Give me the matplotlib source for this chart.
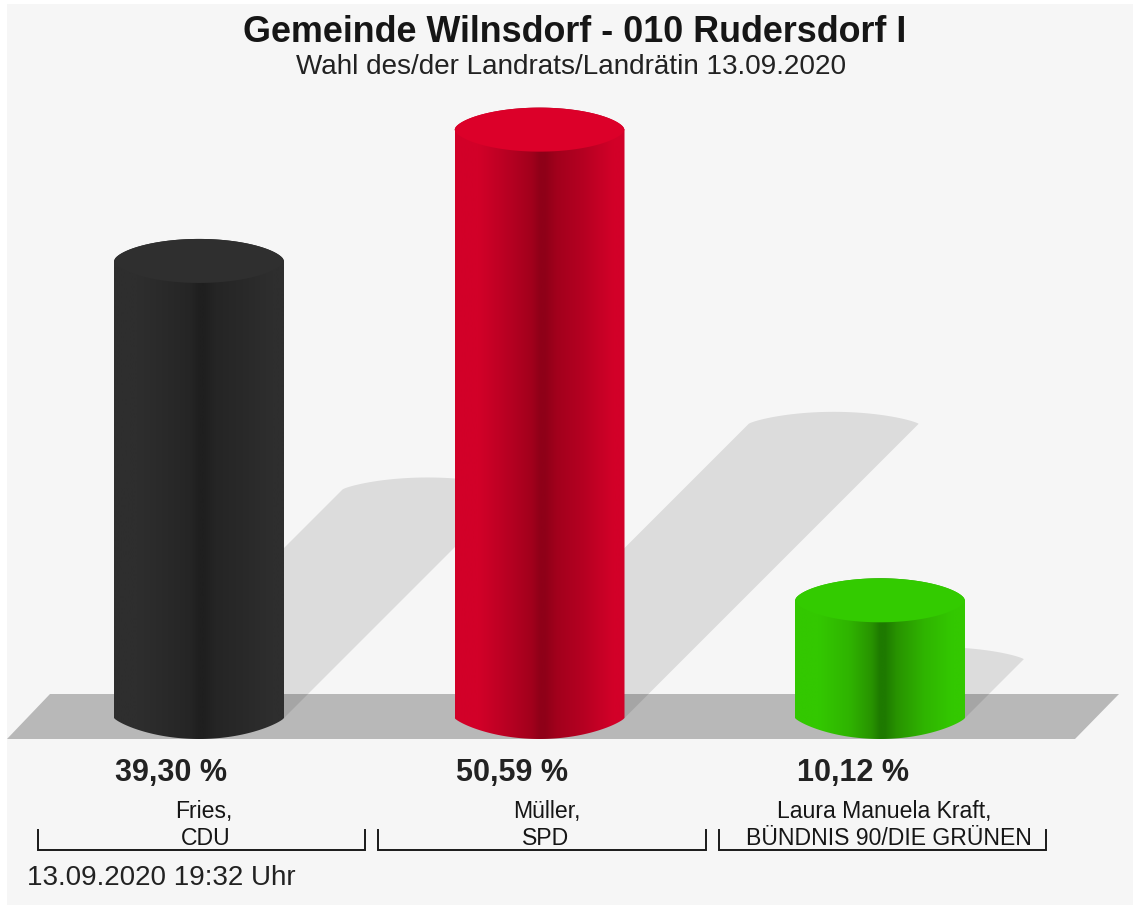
import numpy as np
import matplotlib
matplotlib.use("Agg")
import matplotlib.pyplot as plt
from matplotlib.patches import Polygon, Rectangle
from matplotlib.colors import LinearSegmentedColormap

plt.rcParams['font.family'] = ['Liberation Sans', 'DejaVu Sans']

title = "Gemeinde Wilnsdorf - 010 Rudersdorf I"
subtitle = "Wahl des/der Landrats/Landrätin 13.09.2020"
timestamp = "13.09.2020 19:32 Uhr"
names = ["Fries,", "Müller,", "Laura Manuela Kraft,"]
parties = ["CDU", "SPD", "BÜNDNIS 90/DIE GRÜNEN"]
values = [39.30, 50.59, 10.12]
value_labels = ["39,30 %", "50,59 %", "10,12 %"]
edge_colors = ["#2e2e2e", "#d20028", "#33c800"]
mid_colors = ["#292929", "#b60022", "#2fb400"]
near_colors = ["#252525", "#a2001c", "#289300"]
dark_colors = ["#1f1f1f", "#8f0018", "#1e7a00"]
top_colors = ["#2f2f2f", "#dc0029", "#33cb00"]

W, H = 1133, 906
PX_PER_PCT = 11.63
BASE_PX = 718
SLOT = 340.5
X0 = 199.0

fig = plt.figure(figsize=(W / 100, H / 100), dpi=100, facecolor="white")
ax = fig.add_axes([0, 0, 1, 1])
ax.set_xlim(-X0 / SLOT, (W - X0) / SLOT)
ax.set_ylim(-(H - BASE_PX) / PX_PER_PCT, BASE_PX / PX_PER_PCT)
ax.axis("off")
dx = 1 / SLOT
dy = 1 / PX_PER_PCT
def X(px): return (px - X0) * dx
def Y(px): return (BASE_PX - px) * dy

ax.add_patch(Rectangle((X(7), Y(905)), (W - 7) * dx, 901 * dy, fc="#f6f6f6", ec="none", zorder=0))
ax.add_patch(Polygon([(X(7), Y(739)), (X(50), Y(694)), (X(1119), Y(694)), (X(1075), Y(739))],
                     closed=True, fc="#b8b8b8", ec="none", zorder=1))

half = 85 * dx
ry_top = 22 * dy
ry_bot = 21 * dy
u = np.linspace(-1, 1, 161)
bulge = (1 - u ** 2) ** 0.8
round_top = (1 - u ** 2) ** 0.6

for i, v in enumerate(values):
    sh_h = v / 2
    sh_x = sh_h * PX_PER_PCT * dx
    arc = [(i + sh_x - half * a, sh_h + 12 * dy * b) for a, b in zip(u, bulge)]
    ax.add_patch(Polygon([(i - half, 0), (i + half, 0)] + arc, closed=True,
                         fc="black", alpha=0.10, ec="none", zorder=2))

for i, v in enumerate(values):
    verts = [(i - half, v)] + [(i + half * a, -ry_bot * b) for a, b in zip(u, bulge)] + [(i + half, v)]
    verts += [(i - half * a, v + ry_top * b) for a, b in zip(u, round_top)]
    poly = Polygon(verts, closed=True, fc="none", ec="none")
    ax.add_patch(poly)
    cmap = LinearSegmentedColormap.from_list("c", [
        (0.0, edge_colors[i]), (0.14, edge_colors[i]), (0.32, mid_colors[i]), (0.45, near_colors[i]),
        (0.50, dark_colors[i]), (0.53, dark_colors[i]), (0.60, near_colors[i]), (0.76, mid_colors[i]),
        (0.93, edge_colors[i]), (1.0, edge_colors[i])])
    grad = np.linspace(0, 1, 256).reshape(1, -1)
    im = ax.imshow(grad, cmap=cmap, extent=(i - half, i + half, -ry_bot * 1.1, v + ry_top * 1.1),
                   aspect="auto", zorder=3, interpolation="bilinear")
    im.set_clip_path(poly)
    top = [(i + half * a, v + ry_top * b) for a, b in zip(u, round_top)]
    top += [(i - half * a, v - ry_top * b) for a, b in zip(u, round_top)]
    ax.add_patch(Polygon(top, closed=True, fc=top_colors[i], ec="none", zorder=4))
ax.set_xlim(-X0 / SLOT, (W - X0) / SLOT)
ax.set_ylim(-(H - BASE_PX) / PX_PER_PCT, BASE_PX / PX_PER_PCT)

tc = "#161616"
ax.text(X(574.5), Y(33), title, fontsize=25.8, fontweight="bold", ha="center", va="center", color=tc, zorder=6)
ax.text(X(571), Y(67.5), subtitle, fontsize=20.1, ha="center", va="center", color="#222222", zorder=6)

val_px = [171, 512, 853]
name_px = [204, 547, 884]
party_px = [205.5, 546, 888.5]
brk_l = [37.5, 378, 718.5]
brk_r = [365, 705.5, 1046]
for i in range(3):
    ax.text(X(val_px[i]), Y(773), value_labels[i], fontsize=22, fontweight="bold", ha="center", va="center",
            color="#222222", zorder=6)
    ax.text(X(name_px[i]), Y(811.5), names[i], fontsize=16.6, ha="center", va="center", color=tc, zorder=6)
    ax.text(X(party_px[i]), Y(838.5), parties[i], fontsize=16.6, ha="center", va="center", color=tc, zorder=6)
    ax.plot([X(brk_l[i]), X(brk_l[i]), X(brk_r[i]), X(brk_r[i])], [Y(830), Y(849.5), Y(849.5), Y(830)],
            color="#1a1a1a", lw=1.4, solid_joinstyle="miter", zorder=5)
ax.text(X(27), Y(878), timestamp, fontsize=20, ha="left", va="center", color="#222222", zorder=6)

fig.savefig("out.png", dpi=100, facecolor="white")
